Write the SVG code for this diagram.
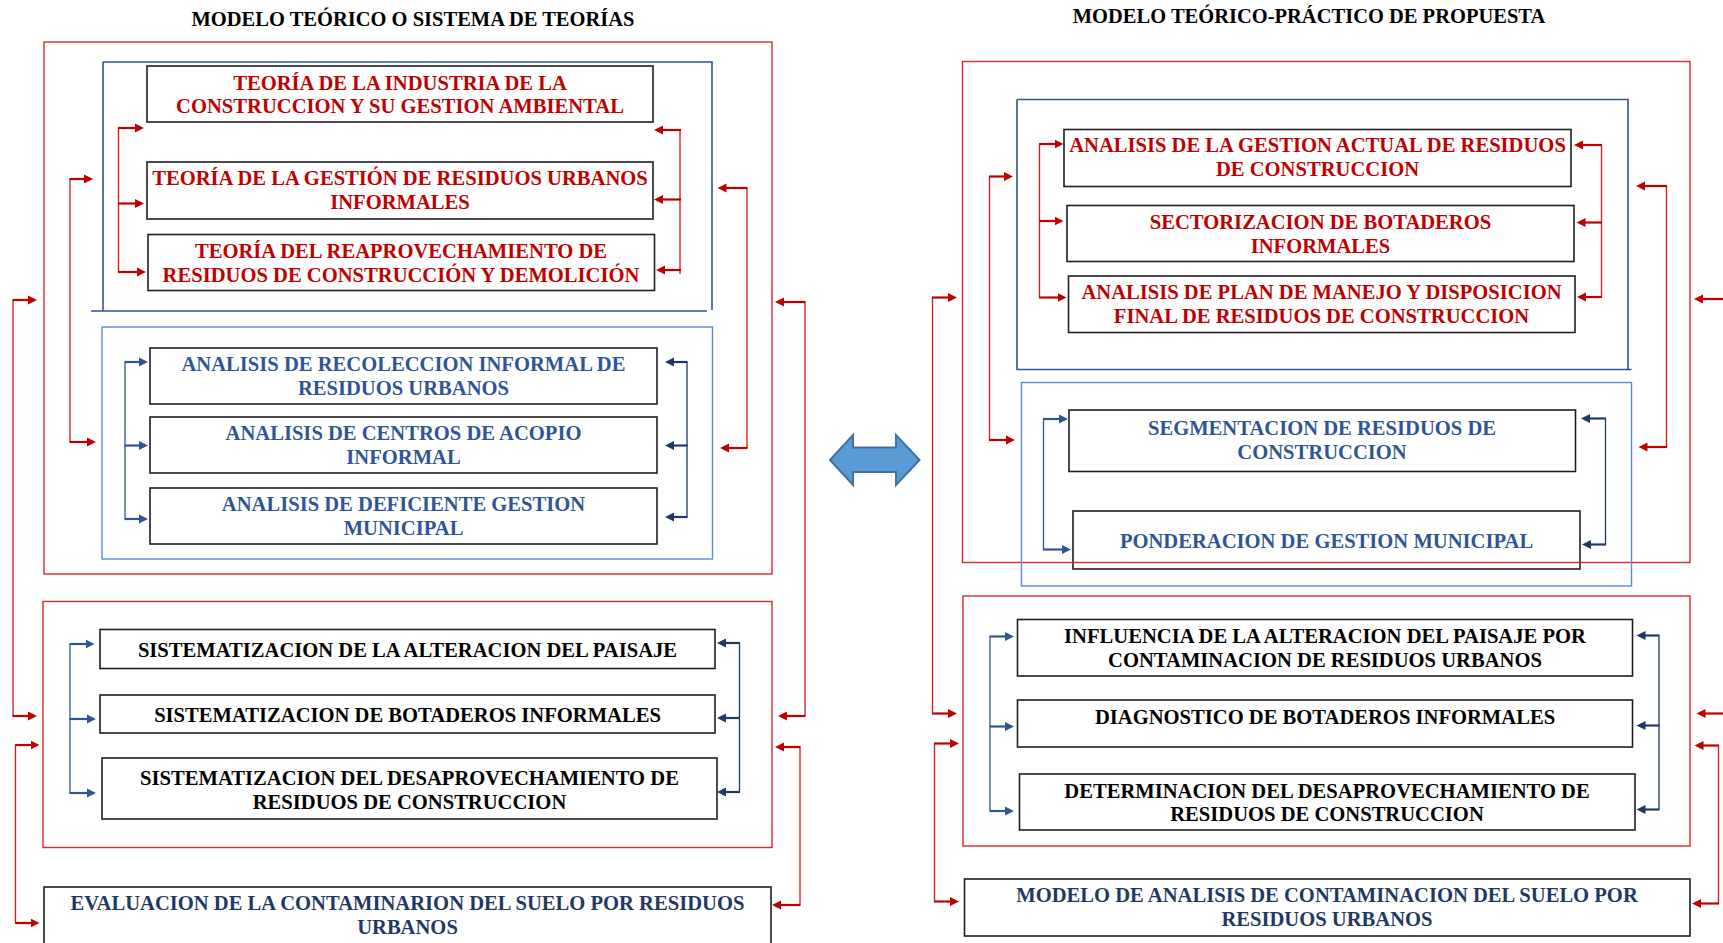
<svg xmlns="http://www.w3.org/2000/svg" width="1723" height="943" viewBox="0 0 1723 943">
  <defs>
    <marker id="ah-red" markerUnits="userSpaceOnUse" markerWidth="10" markerHeight="10" viewBox="0 0 10 10" refX="4" refY="5" orient="auto">
      <path d="M0,0.5 L9,5 L0,9.5 z" fill="#C00000"/>
    </marker>
    <marker id="ah-blue" markerUnits="userSpaceOnUse" markerWidth="10" markerHeight="10" viewBox="0 0 10 10" refX="4" refY="5" orient="auto">
      <path d="M0,0.5 L9,5 L0,9.5 z" fill="#2F5597"/>
    </marker>
    <marker id="ah-navy" markerUnits="userSpaceOnUse" markerWidth="10" markerHeight="10" viewBox="0 0 10 10" refX="4" refY="5" orient="auto">
      <path d="M0,0.5 L9,5 L0,9.5 z" fill="#203864"/>
    </marker>
    <style>
      text { font-family: "Liberation Serif", "Times New Roman", serif; font-weight: bold; font-size: 20.6px; text-anchor: middle; }
      .title { fill: #000; font-size: 20.5px; }
      .t-red { fill: #C00000; }
      .t-blue { fill: #2F5597; }
      .t-black { fill: #000; }
      .t-navy { fill: #1F3864; }
      .box { fill: #fff; stroke: #1e1e1e; stroke-width: 1.6; }
      .frame-red { fill: none; stroke: #D52A2A; stroke-width: 1.4; }
      .frame-dblue { fill: none; stroke: #2F5496; stroke-width: 1.6; }
      .frame-lblue { fill: none; stroke: #5B8BD9; stroke-width: 1.4; }
      .v-red { stroke: #D01A1A; stroke-width: 1.3; fill: none; }
      .v-blue { stroke: #2F5597; stroke-width: 1.3; fill: none; }
      .v-navy { stroke: #203864; stroke-width: 1.3; fill: none; }
      .a-red { stroke: #C00000; stroke-width: 2.2; marker-end: url(#ah-red); }
      .a-blue { stroke: #2F5597; stroke-width: 2.2; marker-end: url(#ah-blue); }
      .a-navy { stroke: #203864; stroke-width: 2.2; marker-end: url(#ah-navy); }
      .dbl { fill: #5B9BD5; stroke: #41719C; stroke-width: 2; }
    </style>
  </defs>

  <rect x="0" y="0" width="1723" height="943" fill="#fff"/>

  <!-- Titles -->
  <text class="title" x="413" y="26">MODELO TEÓRICO O SISTEMA DE TEORÍAS</text>
  <text class="title" x="1309" y="22.5">MODELO TEÓRICO-PRÁCTICO DE PROPUESTA</text>

  <!-- Left column: theory nodes -->
  <g id="node-teoria-industria">
    <rect class="box" x="147" y="66" width="506" height="56"/>
    <text class="t-red" x="400" y="89.5">TEORÍA DE LA INDUSTRIA DE LA</text>
    <text class="t-red" x="400" y="112.5">CONSTRUCCION Y SU GESTION AMBIENTAL</text>
  </g>
  <g id="node-teoria-gestion">
    <rect class="box" x="147" y="162" width="506" height="57"/>
    <text class="t-red" x="400" y="185">TEORÍA DE LA GESTIÓN DE RESIDUOS URBANOS</text>
    <text class="t-red" x="400" y="208.5">INFORMALES</text>
  </g>
  <g id="node-teoria-reaprovechamiento">
    <rect class="box" x="148" y="234.5" width="506.5" height="56"/>
    <text class="t-red" x="401" y="258">TEORÍA DEL REAPROVECHAMIENTO DE</text>
    <text class="t-red" x="401" y="281.5">RESIDUOS DE CONSTRUCCIÓN Y DEMOLICIÓN</text>
  </g>
  <g id="node-analisis-recoleccion">
    <rect class="box" x="150" y="348" width="507" height="56"/>
    <text class="t-blue" x="403.5" y="371">ANALISIS DE RECOLECCION INFORMAL DE</text>
    <text class="t-blue" x="403.5" y="395">RESIDUOS URBANOS</text>
  </g>
  <g id="node-analisis-acopio">
    <rect class="box" x="150" y="417" width="507" height="56"/>
    <text class="t-blue" x="403.5" y="439.5">ANALISIS DE CENTROS DE ACOPIO</text>
    <text class="t-blue" x="403.5" y="463.5">INFORMAL</text>
  </g>
  <g id="node-analisis-municipal">
    <rect class="box" x="150" y="488" width="507" height="56"/>
    <text class="t-blue" x="403.5" y="511">ANALISIS DE DEFICIENTE GESTION</text>
    <text class="t-blue" x="403.5" y="535">MUNICIPAL</text>
  </g>
  <g id="node-sist-paisaje">
    <rect class="box" x="100" y="629.5" width="615" height="39"/>
    <text class="t-black" x="407.5" y="656.5">SISTEMATIZACION DE LA ALTERACION DEL PAISAJE</text>
  </g>
  <g id="node-sist-botaderos">
    <rect class="box" x="100" y="695" width="615" height="38"/>
    <text class="t-black" x="407.5" y="721.5">SISTEMATIZACION DE BOTADEROS INFORMALES</text>
  </g>
  <g id="node-sist-desaprovechamiento">
    <rect class="box" x="102" y="758" width="615" height="61"/>
    <text class="t-black" x="409.5" y="784.5">SISTEMATIZACION DEL DESAPROVECHAMIENTO DE</text>
    <text class="t-black" x="409.5" y="808.5">RESIDUOS DE CONSTRUCCION</text>
  </g>
  <g id="node-evaluacion">
    <rect class="box" x="44" y="887" width="727" height="70"/>
    <text class="t-navy" x="407.5" y="910">EVALUACION DE LA CONTAMINARION DEL SUELO POR RESIDUOS</text>
    <text class="t-navy" x="407.5" y="934">URBANOS</text>
  </g>

  <!-- Right column: proposal nodes -->
  <g id="node-gestion-actual">
    <rect class="box" x="1064" y="129.5" width="507" height="57"/>
    <text class="t-red" x="1317.5" y="151.5">ANALISIS DE LA GESTION ACTUAL DE RESIDUOS</text>
    <text class="t-red" x="1317.5" y="175.5">DE CONSTRUCCION</text>
  </g>
  <g id="node-sectorizacion">
    <rect class="box" x="1067" y="205.5" width="507" height="56"/>
    <text class="t-red" x="1320.5" y="228.5">SECTORIZACION DE BOTADEROS</text>
    <text class="t-red" x="1320.5" y="252.5">INFORMALES</text>
  </g>
  <g id="node-plan-manejo">
    <rect class="box" x="1068.5" y="276" width="506.5" height="56.5"/>
    <text class="t-red" x="1321.5" y="299">ANALISIS DE PLAN DE MANEJO Y DISPOSICION</text>
    <text class="t-red" x="1321.5" y="323">FINAL DE RESIDUOS DE CONSTRUCCION</text>
  </g>
  <g id="node-segmentacion">
    <rect class="box" x="1069" y="410" width="506.5" height="61.5"/>
    <text class="t-blue" x="1322" y="435">SEGMENTACION DE RESIDUOS DE</text>
    <text class="t-blue" x="1322" y="459">CONSTRUCCION</text>
  </g>
  <g id="node-ponderacion">
    <rect class="box" x="1073" y="511" width="507" height="58"/>
    <text class="t-blue" x="1326.5" y="547.5">PONDERACION DE GESTION MUNICIPAL</text>
  </g>
  <g id="node-influencia">
    <rect class="box" x="1017.5" y="619.5" width="615" height="56.5"/>
    <text class="t-black" x="1325" y="642.5">INFLUENCIA DE LA ALTERACION DEL PAISAJE POR</text>
    <text class="t-black" x="1325" y="666.5">CONTAMINACION DE RESIDUOS URBANOS</text>
  </g>
  <g id="node-diagnostico">
    <rect class="box" x="1017.5" y="700" width="615" height="47"/>
    <text class="t-black" x="1325" y="724">DIAGNOSTICO DE BOTADEROS INFORMALES</text>
  </g>
  <g id="node-determinacion">
    <rect class="box" x="1019.5" y="774" width="615.5" height="56"/>
    <text class="t-black" x="1327" y="797.5">DETERMINACION DEL DESAPROVECHAMIENTO DE</text>
    <text class="t-black" x="1327" y="821">RESIDUOS DE CONSTRUCCION</text>
  </g>
  <g id="node-modelo-analisis">
    <rect class="box" x="964.5" y="879" width="725.5" height="57"/>
    <text class="t-navy" x="1327" y="901.5">MODELO DE ANALISIS DE CONTAMINACION DEL SUELO POR</text>
    <text class="t-navy" x="1327" y="925.5">RESIDUOS URBANOS</text>
  </g>

  <!-- Grouping frames -->
  <g id="frames">
    <rect class="frame-red" x="44" y="42" width="728" height="532"/>
    <rect class="frame-red" x="43" y="601.5" width="729" height="246"/>
    <path class="frame-dblue" d="M103,62 H712 V310 M103,62 V311 M91,311 H707"/>
    <rect class="frame-lblue" x="102" y="327" width="610.5" height="232"/>

    <rect class="frame-red" x="962.5" y="61.5" width="727.5" height="501"/>
    <rect class="frame-red" x="963" y="596" width="727" height="250"/>
    <path class="frame-dblue" d="M1017,99.5 H1628 V369.5 M1017,99.5 V369.5 H1631.5"/>
    <rect class="frame-lblue" x="1021.5" y="382.5" width="610" height="203.5"/>
  </g>

  <!-- Double arrow between the two models -->
  <g id="node-double-arrow">
    <polygon class="dbl" points="830,460 853,435 853,447.5 896,447.5 896,435 919.5,460 896,485 896,472 853,472 853,485"/>
  </g>

  <!-- Connectors -->
  <g id="connectors">
    <!-- left: theory block, inner red brackets -->
    <line class="v-red" x1="118.5" y1="128" x2="118.5" y2="272"/>
    <line class="a-red" x1="118" y1="128" x2="139" y2="128"/>
    <line class="a-red" x1="118" y1="203.5" x2="139" y2="203.5"/>
    <line class="a-red" x1="118" y1="272" x2="141" y2="272"/>
    <line class="v-red" x1="680" y1="130" x2="680" y2="274"/>
    <line class="a-red" x1="681" y1="130" x2="659" y2="130"/>
    <line class="a-red" x1="681" y1="199.5" x2="659" y2="199.5"/>
    <line class="a-red" x1="681" y1="270" x2="661" y2="270"/>

    <!-- left: analysis block, blue brackets -->
    <line class="v-blue" x1="125" y1="362" x2="125" y2="519"/>
    <line class="a-blue" x1="124.5" y1="362" x2="143" y2="362"/>
    <line class="a-blue" x1="124.5" y1="445.5" x2="143" y2="445.5"/>
    <line class="a-blue" x1="124.5" y1="519" x2="143" y2="519"/>
    <line class="v-navy" x1="687" y1="362" x2="687" y2="517"/>
    <line class="a-navy" x1="687.5" y1="362" x2="670" y2="362"/>
    <line class="a-navy" x1="687.5" y1="445.5" x2="670" y2="445.5"/>
    <line class="a-navy" x1="687.5" y1="517" x2="670" y2="517"/>

    <!-- left: red links between theory and analysis frames -->
    <line class="v-red" x1="70" y1="179" x2="70" y2="442"/>
    <line class="a-red" x1="69.5" y1="179" x2="88" y2="179"/>
    <line class="a-red" x1="69.5" y1="442" x2="91" y2="442"/>
    <line class="v-red" x1="747" y1="188" x2="747" y2="448"/>
    <line class="a-red" x1="747.5" y1="188" x2="722.5" y2="188"/>
    <line class="a-red" x1="747.5" y1="448" x2="725" y2="448"/>

    <!-- left: systematization block, blue brackets -->
    <line class="v-blue" x1="70" y1="644" x2="70" y2="793"/>
    <line class="a-blue" x1="69.5" y1="644" x2="89.5" y2="644"/>
    <line class="a-blue" x1="69.5" y1="719" x2="91" y2="719"/>
    <line class="a-blue" x1="69.5" y1="793" x2="91" y2="793"/>
    <line class="v-navy" x1="739.5" y1="643" x2="739.5" y2="792"/>
    <line class="a-navy" x1="740" y1="643" x2="722" y2="643"/>
    <line class="a-navy" x1="740" y1="718" x2="722" y2="718"/>
    <line class="a-navy" x1="740" y1="792" x2="722" y2="792"/>

    <!-- left: outer red links -->
    <line class="v-red" x1="13" y1="300" x2="13" y2="716"/>
    <line class="a-red" x1="12.5" y1="300" x2="32" y2="300"/>
    <line class="a-red" x1="12.5" y1="716" x2="32" y2="716"/>
    <line class="v-red" x1="15.5" y1="745" x2="15.5" y2="923"/>
    <line class="a-red" x1="15" y1="745" x2="34.5" y2="745"/>
    <line class="a-red" x1="15" y1="923" x2="34.5" y2="923"/>
    <line class="v-red" x1="805" y1="302" x2="805" y2="716"/>
    <line class="a-red" x1="805.5" y1="302" x2="780" y2="302"/>
    <line class="a-red" x1="805.5" y1="716" x2="783" y2="716"/>
    <line class="v-red" x1="800" y1="747" x2="800" y2="905"/>
    <line class="a-red" x1="800.5" y1="747" x2="780" y2="747"/>
    <line class="a-red" x1="800.5" y1="905" x2="777" y2="905"/>

    <!-- right: analysis block, inner red brackets -->
    <line class="v-red" x1="1039.5" y1="144" x2="1039.5" y2="297.5"/>
    <line class="a-red" x1="1039" y1="144" x2="1058.5" y2="144"/>
    <line class="a-red" x1="1039" y1="221" x2="1058.5" y2="221"/>
    <line class="a-red" x1="1039" y1="297.5" x2="1061.5" y2="297.5"/>
    <line class="v-red" x1="1601.5" y1="144" x2="1601.5" y2="297"/>
    <line class="a-red" x1="1602" y1="145" x2="1579" y2="145"/>
    <line class="a-red" x1="1602" y1="222.5" x2="1581.5" y2="222.5"/>
    <line class="a-red" x1="1602" y1="297" x2="1582" y2="297"/>

    <!-- right: segmentation block, blue brackets -->
    <line class="v-blue" x1="1043.5" y1="419" x2="1043.5" y2="549.5"/>
    <line class="a-blue" x1="1043" y1="419" x2="1063" y2="419"/>
    <line class="a-blue" x1="1043" y1="549.5" x2="1066" y2="549.5"/>
    <line class="v-navy" x1="1605.5" y1="418.5" x2="1605.5" y2="544.5"/>
    <line class="a-navy" x1="1606" y1="418.5" x2="1586" y2="418.5"/>
    <line class="a-navy" x1="1606" y1="544.5" x2="1587" y2="544.5"/>

    <!-- right: red links between the two upper frames -->
    <line class="v-red" x1="989.5" y1="176.5" x2="989.5" y2="440"/>
    <line class="a-red" x1="989" y1="176.5" x2="1008" y2="176.5"/>
    <line class="a-red" x1="989" y1="440" x2="1010" y2="440"/>
    <line class="v-red" x1="1666.5" y1="186" x2="1666.5" y2="447"/>
    <line class="a-red" x1="1667" y1="186" x2="1641" y2="186"/>
    <line class="a-red" x1="1667" y1="447" x2="1643.5" y2="447"/>

    <!-- right: diagnosis block, blue brackets -->
    <line class="v-blue" x1="990" y1="636.5" x2="990" y2="811"/>
    <line class="a-blue" x1="989.5" y1="636.5" x2="1009" y2="636.5"/>
    <line class="a-blue" x1="989.5" y1="726.5" x2="1009" y2="726.5"/>
    <line class="a-blue" x1="989.5" y1="811" x2="1009" y2="811"/>
    <line class="v-navy" x1="1659" y1="635.5" x2="1659" y2="809.5"/>
    <line class="a-navy" x1="1659.5" y1="635.5" x2="1641.5" y2="635.5"/>
    <line class="a-navy" x1="1659.5" y1="725.5" x2="1641.5" y2="725.5"/>
    <line class="a-navy" x1="1659.5" y1="809.5" x2="1641.5" y2="809.5"/>

    <!-- right: outer red links -->
    <line class="v-red" x1="932.5" y1="297.5" x2="932.5" y2="713.5"/>
    <line class="a-red" x1="932" y1="297.5" x2="952" y2="297.5"/>
    <line class="a-red" x1="932" y1="713.5" x2="952" y2="713.5"/>
    <line class="v-red" x1="934.5" y1="743.5" x2="934.5" y2="901.5"/>
    <line class="a-red" x1="934" y1="743.5" x2="954" y2="743.5"/>
    <line class="a-red" x1="934" y1="901.5" x2="954" y2="901.5"/>
    <line class="v-red" x1="1728" y1="299" x2="1728" y2="713.5"/>
    <line class="a-red" x1="1728.5" y1="299" x2="1699" y2="299"/>
    <line class="a-red" x1="1728.5" y1="713.5" x2="1701.5" y2="713.5"/>
    <line class="v-red" x1="1718.5" y1="745.5" x2="1718.5" y2="903.5"/>
    <line class="a-red" x1="1719" y1="745.5" x2="1699.5" y2="745.5"/>
    <line class="a-red" x1="1719" y1="903.5" x2="1697" y2="903.5"/>
  </g>
</svg>
